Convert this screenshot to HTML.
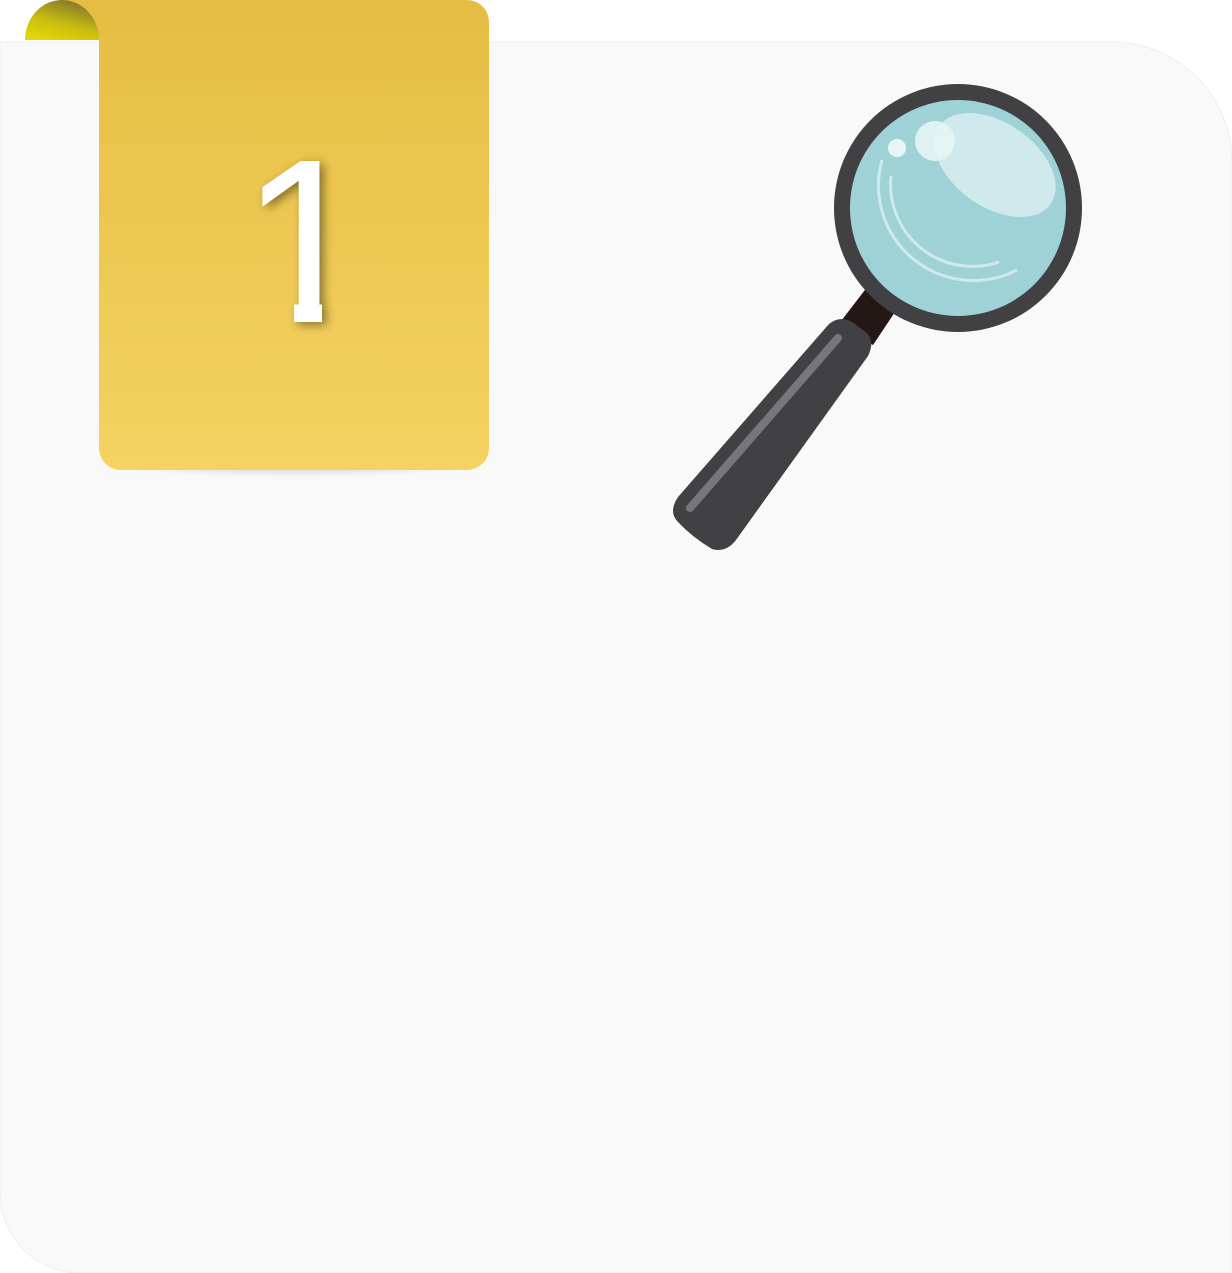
<!DOCTYPE html>
<html><head><meta charset="utf-8"><style>
html,body{margin:0;padding:0;background:#fff;width:1232px;height:1273px;overflow:hidden}
svg{display:block}
.num{font-family:"Liberation Sans",Arial,sans-serif;font-size:234px}
</style></head><body>
<svg width="1232" height="1273" viewBox="0 0 1232 1273">
<defs>
<linearGradient id="tabg" x1="0" y1="0" x2="0" y2="1"><stop offset="0" stop-color="#e5bd42"/><stop offset="1" stop-color="#f5d262"/></linearGradient>
<linearGradient id="curl" x1="0.8" y1="0" x2="0.3" y2="1"><stop offset="0" stop-color="#7a7030"/><stop offset="0.6" stop-color="#c9bd10"/><stop offset="1" stop-color="#e2d508"/></linearGradient>
<radialGradient id="sh" cx="0.5" cy="0" r="0.6"><stop offset="0" stop-color="#000" stop-opacity="0.3"/><stop offset="1" stop-color="#000" stop-opacity="0"/></radialGradient>
<filter id="ts" x="-30%" y="-30%" width="160%" height="160%"><feGaussianBlur in="SourceAlpha" stdDeviation="5"/><feOffset dx="4" dy="3"/><feComponentTransfer><feFuncA type="linear" slope="0.45"/></feComponentTransfer><feMerge><feMergeNode/><feMergeNode in="SourceGraphic"/></feMerge></filter>
<clipPath id="noBase"><rect x="0" y="0" width="600" height="298"/><rect x="300" y="0" width="28" height="340"/></clipPath>
</defs>
<path d="M0,42 H1112 A120,120 0 0 1 1232,162 V1273 H80 A80,80 0 0 1 0,1193 Z" fill="#f9f9f9" stroke="#eeeeee" stroke-width="1"/>
<ellipse cx="294" cy="474" rx="185" ry="20" fill="url(#sh)"/>
<path d="M60,0 H467 A22,22 0 0 1 489,22 V448 A22,22 0 0 1 467,470 H121 A22,22 0 0 1 99,448 V40 H60 Z" fill="url(#tabg)"/>
<rect x="60" y="0" width="39" height="40" fill="#e5bd42"/>
<path d="M25,40 A37,40 0 0 1 99,40 Z" fill="url(#curl)"/>
<g filter="url(#ts)" transform="translate(-6,0)"><g clip-path="url(#noBase)">
<text class="num" x="311" y="322" text-anchor="middle" fill="#ffffff">1</text>
</g></g>
<g>
<polygon points="868,286 903,300 873,345 838,325" fill="#231815"/>
<path d="M829,324 Q840,315 852,322 L867,333 Q875,342 868,356 L736,540 Q726,553 712,549 Q692,537 678,522 Q668,512 678,497 Z" fill="#414042"/>
<line x1="838" y1="338" x2="690" y2="508" stroke="#77767b" stroke-width="8" stroke-linecap="round"/>
<circle cx="958" cy="208" r="124" fill="#414042"/>
<circle cx="958" cy="208" r="108" fill="#9fd2d7"/>
<ellipse cx="995" cy="165" rx="68" ry="42" transform="rotate(35 995 165)" fill="#cfe9ec"/>
<circle cx="935" cy="141" r="20" fill="#e6f5f6" opacity="0.9"/>
<circle cx="897" cy="148" r="9" fill="#e6f5f6"/>
<path d="M882,160 A95,95 0 0 0 1017,270" fill="none" stroke="#cfe9ec" stroke-width="3"/>
<path d="M891,176 A82,82 0 0 0 999,262" fill="none" stroke="#cfe9ec" stroke-width="3"/>
</g>
</svg>
</body></html>
